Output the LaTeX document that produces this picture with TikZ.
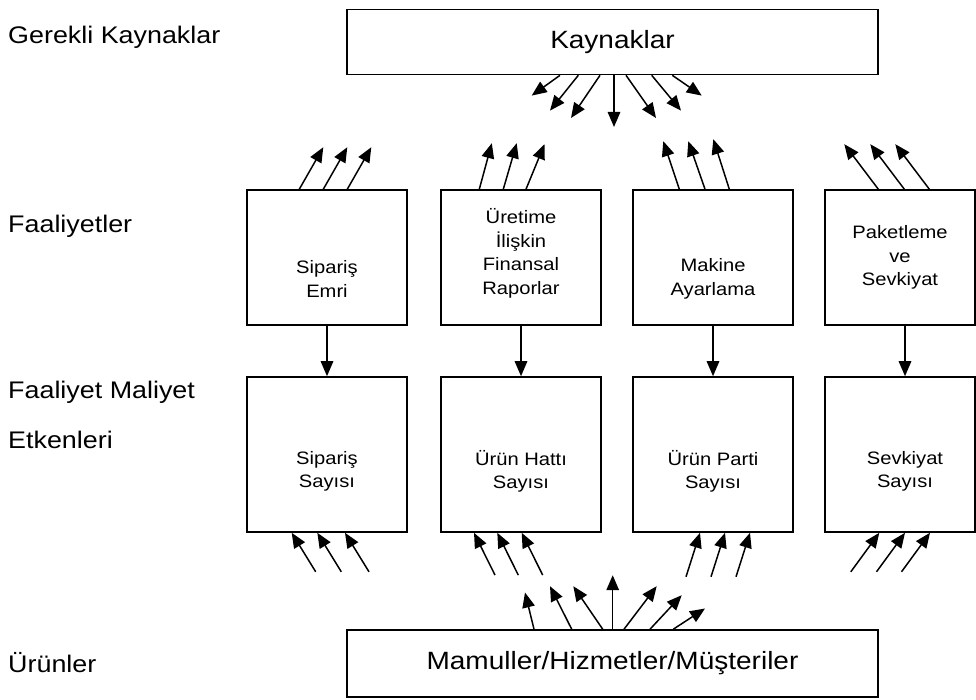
\documentclass[tikz,border=0pt]{standalone}
\usepackage{fontspec}
\setmainfont{Liberation Sans}[FakeStretch=1.12]
\usetikzlibrary{arrows.meta,calc}

\begin{document}
\begin{tikzpicture}[x=1pt,y=-1pt,
  box/.style={draw, line width=1.6pt, rectangle, inner sep=0pt},
  wide/.style={box, minimum width=531pt, minimum height=65pt},
  cell/.style={box, minimum width=160pt},
  actbox/.style={cell, minimum height=135pt},
  drvbox/.style={cell, minimum height=155pt},
  boxtext/.style={inner sep=0pt, align=center, font=\fontsize{18}{23.5}\selectfont},
  bigtext/.style={inner sep=0pt, font=\fontsize{25}{30}\selectfont},
  sidelabel/.style={inner sep=0pt, anchor=west, font=\fontsize{24}{28}\selectfont},
  arr/.style={line width=1.5pt, -{Triangle[length=15pt,width=12.5pt]}}
]
\useasboundingbox (0,0) rectangle (976,700);

% row labels on the left
\node[sidelabel] (lbl1) at (8,37) {Gerekli Kaynaklar};
\node[sidelabel] (lbl2) at (8,226) {Faaliyetler};
\node[sidelabel] (lbl3) at (8,392) {Faaliyet Maliyet};
\node[sidelabel] (lbl4) at (8,440) {Etkenleri};
\node[sidelabel] (lbl5) at (8,663) {Ürünler};

% resources and products
\node[wide] (kay) at (612.5,42) {};
\node[bigtext] (kayt) at (kay.center) {Kaynaklar};
\node[wide, minimum height=67pt] (mam) at (612.5,663.5) {};
\node[bigtext] (mamt) at (mam.center) {Mamuller/Hizmetler/Müşteriler};

% activities
\node[actbox] (a1) at (327,257.5) {};
\node[actbox] (a2) at (521,257.5) {};
\node[actbox] (a3) at (713,257.5) {};
\node[actbox, minimum width=150pt] (a4) at (900,257.5) {};
\node[boxtext] (a1t) at ([yshift=-21.5pt]a1.center) {Sipariş\\Emri};
\node[boxtext] (a2t) at ([yshift=4pt]a2.center) {Üretime\\İlişkin\\Finansal\\Raporlar};
\node[boxtext] (a3t) at ([yshift=-21.5pt]a3.center) {Makine\\Ayarlama};
\node[boxtext] (a4t) at ([yshift=0pt]a4.center) {Paketleme\\ve\\Sevkiyat};

% cost drivers
\node[drvbox] (d1) at (327,454.5) {};
\node[drvbox] (d2) at (521,454.5) {};
\node[drvbox] (d3) at (713,454.5) {};
\node[drvbox, minimum width=150pt] (d4) at (900,454.5) {};
\node[boxtext] (d1t) at ([yshift=-17pt]d1.center) {Sipariş\\Sayısı};
\node[boxtext] (d2t) at ([yshift=-17pt]d2.center) {Ürün Hattı\\Sayısı};
\node[boxtext] (d3t) at ([yshift=-17pt]d3.center) {Ürün Parti\\Sayısı};
\node[boxtext] (d4t) at ([xshift=5pt,yshift=-17pt]d4.center) {Sevkiyat\\Sayısı};

% activity -> driver
\draw[arr] (a1.south) -- (d1.north);
\draw[arr] (a2.south) -- (d2.north);
\draw[arr] (a3.south) -- (d3.north);
\draw[arr] ([xshift=5pt]a4.south) -- ([xshift=5pt]d4.north);

% resources fanning out
\foreach \o/\dx/\dy in {-52.5/-28.3/20.3, -34.2/-28.3/35.3, -12.5/-29/42.7,
    1.5/0/51.7, 13.5/30/42.7, 39.2/29.3/35.3, 59.8/29.4/20.3}
  \draw[arr] ([xshift=\o pt]kay.south) -- ++(\dx,\dy);

% activities drawing on resources
\foreach \o in {-27.7,-3.7,20.3}
  \draw[arr] ([xshift=\o pt]a1.north) -- ++(24,-42);
\foreach \o/\dx/\dy in {-41.7/12.5/-46, -17.7/13.4/-46, 5/18.5/-45}
  \draw[arr] ([xshift=\o pt]a2.north) -- ++(\dx,\dy);
\foreach \o/\dx/\dy in {-33.7/-16/-48, -8/-16.7/-48, 16.3/-16/-50}
  \draw[arr] ([xshift=\o pt]a3.north) -- ++(\dx,\dy);
\foreach \o in {-21.7,4.3,29.3}
  \draw[arr] ([xshift=\o pt]a4.north) -- ++(-34,-45);

% drivers fed from below
\foreach \o in {-35.3,-9.7,18}
  \draw[arr] ($([xshift=\o pt]d1.south)+(24,39)$) -- ([xshift=\o pt]d1.south);
\foreach \o in {-47,-23.7,0.7}
  \draw[arr] ($([xshift=\o pt]d2.south)+(21,42.3)$) -- ([xshift=\o pt]d2.south);
\foreach \o in {-13,12,37}
  \draw[arr] ($([xshift=\o pt]d3.south)+(-14,44)$) -- ([xshift=\o pt]d3.south);
\foreach \o in {-20.7,5,30}
  \draw[arr] ($([xshift=\o pt]d4.south)+(-28.5,39)$) -- ([xshift=\o pt]d4.south);

% products fanning upward
\foreach \o/\dx/\dy in {-78.5/-9/-36.7, -40.8/-21.7/-43, -9.8/-29.4/-43,
    0.2/0/-54, 11.5/32.7/-43, 37.5/31.7/-34, 60.8/31.7/-20.7}
  \draw[arr] ([xshift=\o pt]mam.north) -- ++(\dx,\dy);
\end{tikzpicture}
\end{document}
